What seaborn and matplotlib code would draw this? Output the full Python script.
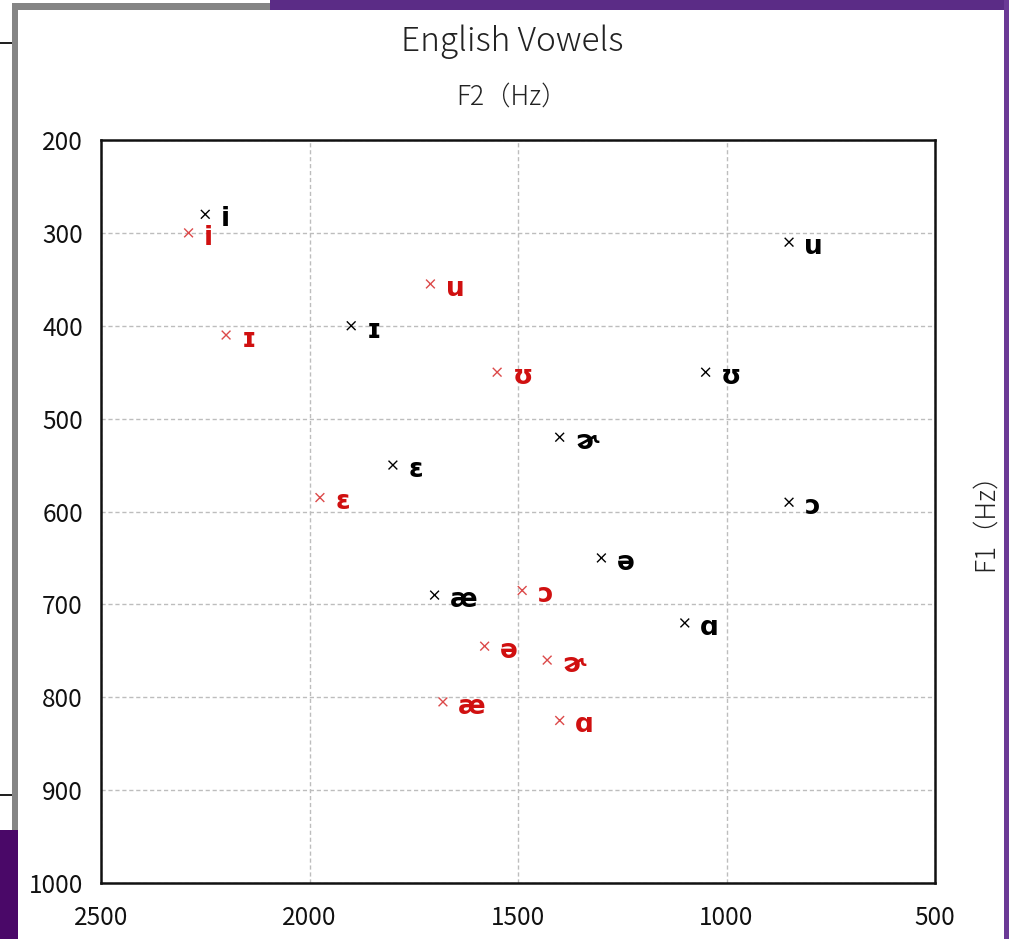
import pandas as pd
import matplotlib
matplotlib.use('Agg')
import matplotlib.pyplot as plt
from matplotlib.patches import Rectangle
import seaborn as sns

# vowel formant values (Hz)
vowels = ['i', 'ɪ', 'ɛ', 'æ', 'ɑ', 'ɔ', 'ʊ', 'u', 'ə', 'ɚ']
f2_black = [2250, 1900, 1800, 1700, 1100, 850, 1050, 850, 1300, 1400]
f1_black = [280, 400, 550, 690, 720, 590, 450, 310, 650, 520]
f2_red = [2290, 2200, 1975, 1680, 1400, 1490, 1550, 1710, 1580, 1430]
f1_red = [300, 410, 585, 805, 825, 685, 450, 355, 745, 760]

x_ticks = [2500, 2000, 1500, 1000, 500]
y_ticks = [200, 300, 400, 500, 600, 700, 800, 900, 1000]

df = pd.DataFrame({
    'vowel': vowels + vowels,
    'F2': f2_black + f2_red,
    'F1': f1_black + f1_red,
    'set': ['black'] * len(vowels) + ['red'] * len(vowels),
})

sns.set_theme(style='white')
plt.rcParams['font.family'] = ['Noto Sans CJK JP', 'DejaVu Sans']

W, H = 1009, 939
fig = plt.figure(figsize=(W / 100, H / 100), dpi=100)
fig.patch.set_facecolor('white')

def px_rect(x0, y0, x1, y1, color):
    # rectangle given in pixel coords from the top-left corner
    fig.add_artist(Rectangle((x0 / W, 1 - y1 / H), (x1 - x0) / W, (y1 - y0) / H,
                             transform=fig.transFigure, color=color, lw=0, zorder=0))

# slide frame around the chart
px_rect(270, 0, 1009, 10, '#5b2c86')
px_rect(1004, 0, 1009, 939, '#6b3a96')
px_rect(12, 3, 270, 10, '#858585')
px_rect(12, 3, 18, 830, '#858585')
px_rect(0, 830, 18, 939, '#4a0868')
px_rect(0, 42, 12, 44, '#222222')
px_rect(0, 794, 12, 796, '#222222')

ax = fig.add_axes([101 / W, 1 - 883 / H, 834 / W, 743 / H])
colors = {'black': 'black', 'red': '#dc4a4a'}
sns.scatterplot(data=df, x='F2', y='F1', hue='set', palette=colors,
                marker='x', s=40, linewidth=1.0, legend=False, ax=ax, zorder=3)

label_colors = {'black': 'black', 'red': '#d01010'}
for _, row in df.iterrows():
    ax.annotate(row['vowel'], (row['F2'], row['F1']), xytext=(11, -3.5),
                textcoords='offset points', ha='left', va='center',
                fontsize=19, fontweight='bold', family=['DejaVu Sans'],
                color=label_colors[row['set']], zorder=4)

ax.set_xlim(2500, 500)
ax.set_ylim(1000, 200)
ax.set_xticks(x_ticks)
ax.set_yticks(y_ticks)
ax.set_xlabel('')
ax.set_ylabel('')
ax.grid(True, color='#bdbdbd', linestyle=(0, (3, 2)), linewidth=1.0)
for s in ax.spines.values():
    s.set_color('#111111')
    s.set_linewidth(1.8)
ax.tick_params(axis='x', length=0, pad=16, labelsize=17.5, colors='#111111')
ax.tick_params(axis='y', length=0, pad=13, labelsize=17.5, colors='#111111')

fig.text(512 / W, 1 - 42 / H, 'English Vowels', ha='center', va='center',
         fontsize=24, fontweight='light', color='#222222')
fig.text(512 / W, 1 - 97 / H, 'F2（Hz）', ha='center', va='center',
         fontsize=19, fontweight='light', color='#222222')
fig.text(985 / W, 1 - 515 / H, 'F1（Hz）', ha='center', va='center',
         rotation=90, fontsize=19, fontweight='light', color='#222222')

fig.savefig('out.png', dpi=100)
